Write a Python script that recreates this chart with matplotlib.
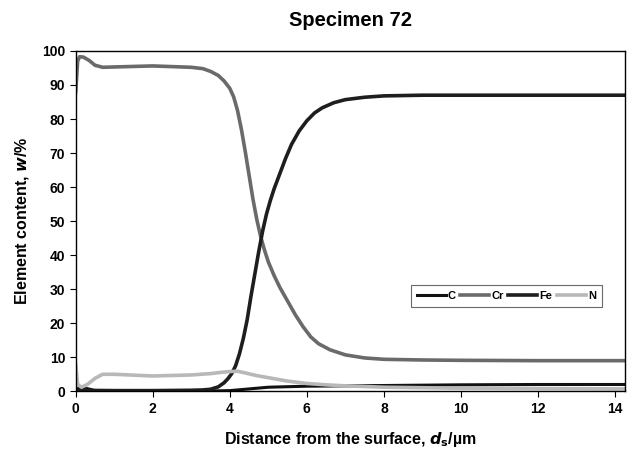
import matplotlib
matplotlib.use('Agg')
import matplotlib.pyplot as plt

plt.rcParams['font.family'] = ['Liberation Sans', 'DejaVu Sans']
plt.rcParams['font.weight'] = 'bold'

# Depth profile, distance in um
cr_x = [0.0, 0.05, 0.1, 0.2, 0.35, 0.5, 0.7, 1.0, 2.0, 3.0, 3.3, 3.5, 3.7, 3.85, 4.0, 4.1,
        4.2, 4.3, 4.4, 4.5, 4.6, 4.7, 4.8, 4.9, 5.0, 5.15, 5.3, 5.5, 5.7, 5.9, 6.1, 6.3,
        6.6, 7.0, 7.5, 8.0, 9.0, 10.0, 12.0, 14.3]
cr_y = [88, 97, 98.3, 98.2, 97.2, 95.8, 95.2, 95.3, 95.6, 95.2, 94.8, 94.0, 92.8, 91.2, 89, 86.5,
        82.5, 77, 70.5, 63.5, 56.5, 50.5, 45.5, 41.5, 38, 34, 30.5, 26.5, 22.5, 19, 16, 14,
        12.2, 10.7, 9.8, 9.4, 9.2, 9.1, 9.0, 9.0]

fe_x = [0.0, 1.0, 2.0, 3.0, 3.3, 3.5, 3.7, 3.85, 3.95, 4.05, 4.15, 4.25, 4.35, 4.45, 4.55,
        4.65, 4.75, 4.85, 4.95, 5.05, 5.15, 5.3, 5.45, 5.6, 5.8, 6.0, 6.2, 6.4, 6.7, 7.0,
        7.5, 8.0, 9.0, 10.0, 12.0, 14.3]
fe_y = [0.3, 0.2, 0.2, 0.3, 0.4, 0.6, 1.3, 2.5, 3.7, 5.2, 7.5, 11, 15.5, 21, 28,
        34.5, 41, 47, 52, 56, 59.5, 64, 68.5, 72.5, 76.5, 79.5, 81.8, 83.3, 84.8, 85.7,
        86.4, 86.8, 87.0, 87.0, 87.0, 87.0]

c_x = [0.0, 0.3, 0.5, 1.0, 3.0, 4.0, 4.5, 5.0, 6.0, 8.0, 10.0, 12.0, 14.3]
c_y = [0.8, 0.8, 0.2, 0.0, 0.0, 0.2, 0.7, 1.2, 1.5, 1.7, 1.9, 2.0, 2.0]

n_x = [0.0, 0.05, 0.15, 0.3, 0.5, 0.7, 1.0, 2.0, 3.0, 3.5, 3.8, 4.0, 4.2, 4.4, 4.7, 5.0,
       5.5, 6.0, 6.5, 7.0, 8.0, 10.0, 12.0, 14.3]
n_y = [8, 2, 1.2, 2, 3.8, 5.0, 5.0, 4.5, 4.8, 5.2, 5.6, 5.8, 5.9, 5.4, 4.6, 4.0,
       3.0, 2.3, 1.9, 1.6, 1.2, 0.9, 0.8, 0.7]

fig = plt.figure(figsize=(6.31, 4.55), dpi=100)
ax = fig.add_axes([0.12, 0.14, 0.87, 0.748])

ax.plot(c_x, c_y, color='#111111', lw=2.2, label='C')
ax.plot(cr_x, cr_y, color='#6a6a6a', lw=2.6, label='Cr')
ax.plot(fe_x, fe_y, color='#1e1e1e', lw=2.6, label='Fe')
ax.plot(n_x, n_y, color='#b8b8b8', lw=2.6, label='N')

ax.set_xlim(0, 14.25)
ax.set_ylim(0, 100)
ax.set_xticks(range(0, 15, 2))
ax.set_yticks(range(0, 101, 10))
ax.tick_params(labelsize=10, length=4, direction='out')
for s in ax.spines.values():
    s.set_linewidth(1.0)

ax.set_title('Specimen 72', fontsize=14.5, fontweight='bold', pad=18)
ax.set_xlabel('Distance from the surface, $\\mathbf{\\mathit{d}_{s}}$/µm', fontsize=11.5, fontweight='bold', labelpad=10)
ax.set_ylabel('Element content, $\\mathit{w}$/%', fontsize=11.5, fontweight='bold', labelpad=8)

leg = ax.legend(ncol=4, loc='upper left', bbox_to_anchor=(0.6, 0.33), fontsize=8,
                handlelength=2.6, handletextpad=0.2, columnspacing=0.4,
                frameon=True, fancybox=False, edgecolor='#444444', borderpad=0.55)
leg.get_frame().set_linewidth(0.8)

plt.savefig('out.png', dpi=100)
plt.close()
